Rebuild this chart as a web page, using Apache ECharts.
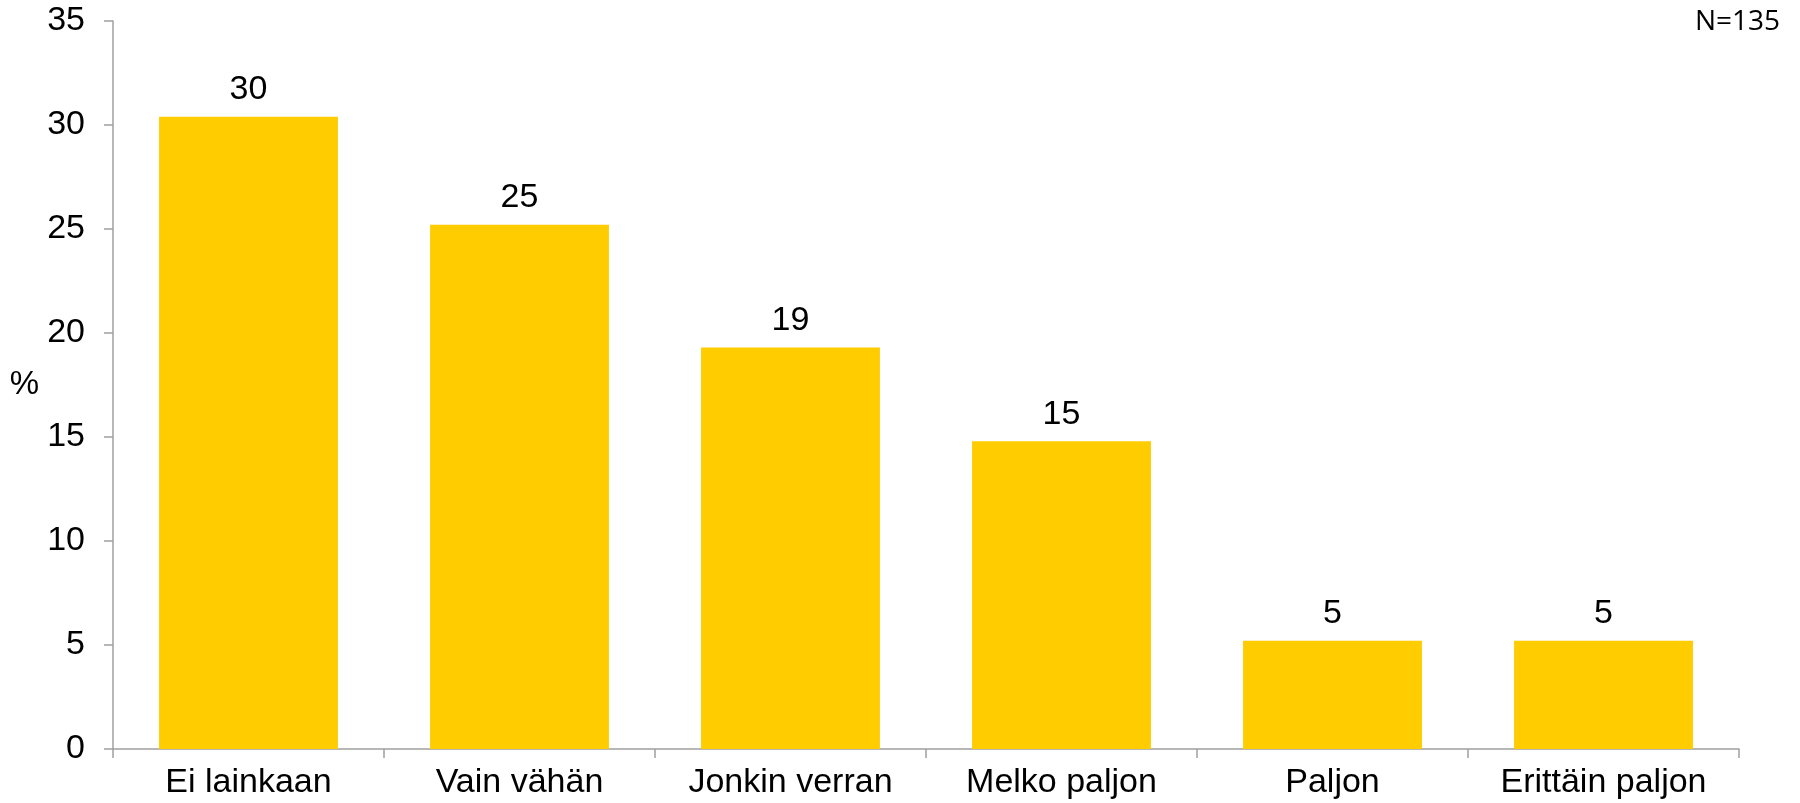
<html lang="en">
<head>
    <meta charset="UTF-8">
    <title>Chart</title>
    <script src="https://cdn.jsdelivr.net/npm/echarts@6/dist/echarts.min.js"></script>
</head>
<body style="margin:0">
<div id="main" style="width: 1800px;height:803px;"></div>
<script type="text/javascript">
    var categories = ['Ei lainkaan', 'Vain vähän', 'Jonkin verran', 'Melko paljon', 'Paljon', 'Erittäin paljon'];
    var values = [30.4, 25.2, 19.3, 14.8, 5.2, 5.2];
    var yTicks = [0, 5, 10, 15, 20, 25, 30, 35];

    var myChart = echarts.init(document.getElementById('main'));
    var option = {
        animation: false,
        textStyle: {fontFamily: 'Liberation Sans, Arial, sans-serif'},
        grid: {left: 113, right: 61, top: 21, bottom: 54},
        graphic: [{
            type: 'text',
            right: 20,
            top: 8,
            style: {text: 'N=135', font: '28px "Open Sans", sans-serif', fill: '#000'}
        }],
        xAxis: {
            type: 'category',
            data: categories,
            axisLine: {lineStyle: {color: '#a0a0a0', width: 1.5}},
            axisTick: {show: true, interval: 0, length: 9, alignWithLabel: false, lineStyle: {color: '#a0a0a0', width: 1.5}},
            axisLabel: {color: '#000', fontSize: 34, margin: 17, interval: 0, hideOverlap: false}
        },
        yAxis: {
            type: 'value',
            min: yTicks[0],
            max: yTicks[yTicks.length - 1],
            interval: 5,
            name: '%',
            nameLocation: 'middle',
            nameRotate: 0,
            nameGap: 74,
            nameTextStyle: {color: '#000', fontSize: 33},
            axisLine: {show: true, lineStyle: {color: '#a0a0a0', width: 1.5}},
            axisTick: {show: true, length: 9, lineStyle: {color: '#a0a0a0', width: 1.5}},
            axisLabel: {color: '#000', fontSize: 34, margin: 28},
            splitLine: {show: false}
        },
        series: [{
            type: 'bar',
            data: values,
            barWidth: '66%',
            itemStyle: {color: '#FFCC00'},
            label: {
                show: true,
                position: 'top',
                distance: 10,
                color: '#000',
                fontSize: 34,
                formatter: function (p) { return Math.round(p.value); }
            }
        }]
    };
    myChart.setOption(option);
</script>
</body>
</html>
